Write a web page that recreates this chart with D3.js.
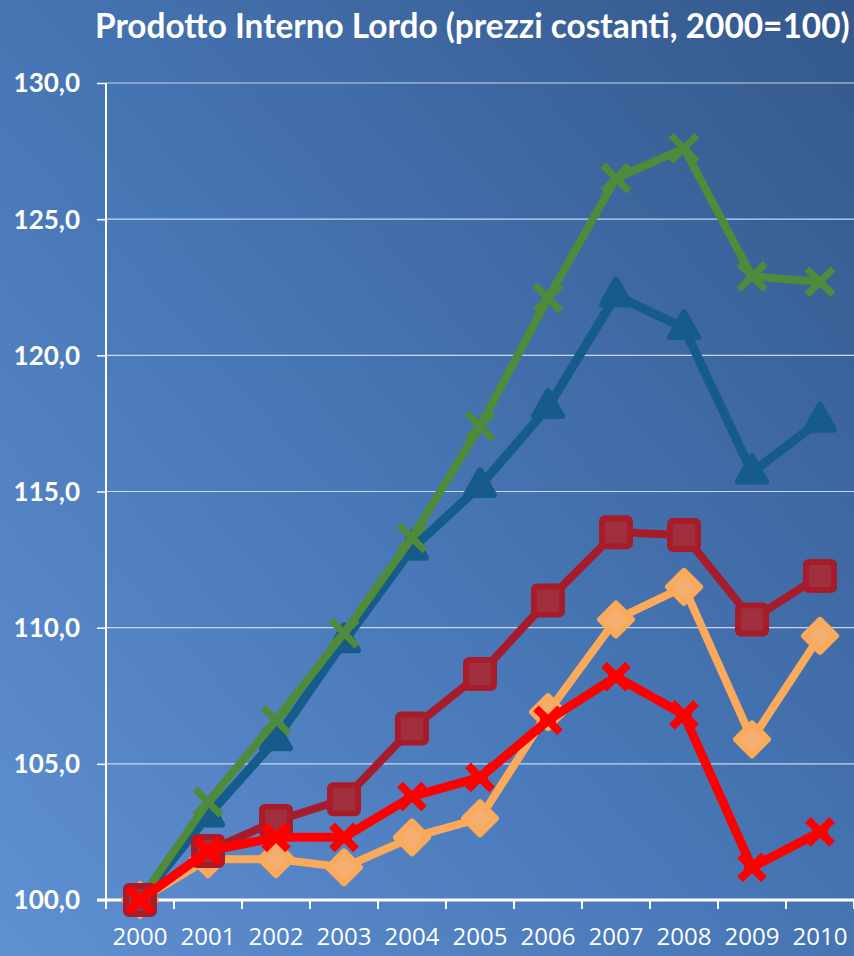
<!DOCTYPE html>
<html><head><meta charset="utf-8">
<script src="https://cdn.jsdelivr.net/npm/d3@7"></script>
<style>html,body{margin:0;padding:0;overflow:hidden;background:#4a78b8}</style>
</head><body>
<svg id="chart" width="854" height="956"></svg>
<script>
const years = ["2000","2001","2002","2003","2004","2005","2006","2007","2008","2009","2010"];
const yTicks = [100,105,110,115,120,125,130];
const serieVerde   = [100,103.6,106.6,109.8,113.3,117.4,122.1,126.5,127.6,122.9,122.7];
const serieBlu     = [100,103.1,105.9,109.5,112.9,115.2,118.1,122.2,121.0,115.7,117.6];
const serieBordeaux= [100,101.8,102.9,103.7,106.3,108.3,111.0,113.5,113.4,110.3,111.9];
const serieArancio = [100,101.5,101.5,101.2,102.3,103.0,106.9,110.3,111.5,105.9,109.7];
const serieRosso   = [100,101.8,102.3,102.3,103.8,104.5,106.6,108.2,106.8,101.2,102.5];
const titleText = "Prodotto Interno Lordo (prezzi costanti, 2000=100)";

const svg = d3.select("#chart");
const W = 854, H = 956;
const defs = svg.append("defs");
const grad = defs.append("linearGradient").attr("id","bg")
  .attr("x1","0").attr("y1","1").attr("x2","1").attr("y2","0");
grad.append("stop").attr("offset","0").attr("stop-color","#5f90d2");
grad.append("stop").attr("offset","0.5").attr("stop-color","#4675b4");
grad.append("stop").attr("offset","1").attr("stop-color","#34588b");
svg.append("rect").attr("width",W).attr("height",H).attr("fill","url(#bg)");

const x = d3.scaleBand().domain(years).range([106, 854]);
const y = d3.scaleLinear().domain([100,130]).range([900, 83]);
const cx = d => x(d) + x.bandwidth()/2;

// title
const t = svg.append("text").attr("x", 95).attr("y", 38)
  .attr("font-family","Lato, 'Open Sans', sans-serif").attr("font-weight","bold")
  .attr("font-size",29).attr("fill","#fff").text(titleText);
const tl = t.node().getComputedTextLength();
t.attr("font-size", 29*755/tl);

// gridlines
svg.append("g").selectAll("line").data(yTicks.filter(v=>v>100)).join("line")
  .attr("x1",106).attr("x2",854).attr("y1",d=>y(d)).attr("y2",d=>y(d))
  .attr("stroke","#c8d6ee").attr("stroke-width",1.2);

// y axis
const yAxis = d3.axisLeft(y).tickValues(yTicks).tickSize(9).tickPadding(17)
  .tickFormat(d => d3.format(".1f")(d).replace(".",","));
const gy = svg.append("g").attr("transform","translate(106,0)").call(yAxis);
gy.select(".domain").remove();
gy.append("line").attr("x1",0).attr("x2",0).attr("y1",y(130)).attr("y2",y(100)).attr("stroke","#fff").attr("stroke-width",2);
gy.selectAll(".tick line").attr("stroke","#fff").attr("stroke-width",1.5);
gy.selectAll(".tick text").attr("fill","#fff").attr("font-family","Lato, sans-serif")
  .attr("font-weight","bold").attr("font-size",26).attr("dy","0.34em");

// x axis
const xAxis = d3.axisBottom(x).tickSize(0).tickPadding(28);
const gx = svg.append("g").attr("transform","translate(0,900)").call(xAxis);
gx.select(".domain").remove();
gx.selectAll(".tick text").attr("fill","#fff").attr("font-family","'Open Sans', Lato, sans-serif")
  .attr("font-size",24).attr("dy","0.71em");
gx.append("line").attr("x1",97).attr("x2",854).attr("y1",0).attr("y2",0).attr("stroke","#fff").attr("stroke-width",3);
gx.selectAll(".bt").data(years.concat(["end"])).join("line").attr("class","bt")
  .attr("x1",(d,i)=> i<years.length ? x(d) : x(years[years.length-1])+x.bandwidth())
  .attr("x2",(d,i)=> i<years.length ? x(d) : x(years[years.length-1])+x.bandwidth())
  .attr("y1",0).attr("y2",9).attr("stroke","#fff").attr("stroke-width",2);

const line = d3.line().x((d,i)=>cx(years[i])).y(d=>y(d));

function drawSeries(vals, color, lw, marker) {
  const g = svg.append("g");
  g.append("path").datum(vals).attr("d", line).attr("fill","none")
    .attr("stroke",color).attr("stroke-width",lw).attr("stroke-linejoin","round");
  const m = g.selectAll("g.m").data(vals).join("g").attr("class","m")
    .attr("transform",(d,i)=>`translate(${cx(years[i])},${y(d)})`);
  marker(m, color);
}

const crossMarker = (m, c) => {
  m.append("path").attr("d","M-13,-13L13,13M-13,13L13,-13").attr("stroke",c).attr("stroke-width",7).attr("fill","none");
};
const triMarker = (m, c) => {
  m.append("path").attr("d","M0,-16L14,9L-14,9Z").attr("fill",c).attr("stroke",c).attr("stroke-width",6).attr("stroke-linejoin","round");
  m.append("path").attr("d","M0,-4L5,4L-5,4Z").attr("fill","#1e5788");
};
const sqMarker = (m, c) => {
  m.append("rect").attr("x",-14).attr("y",-14).attr("width",28).attr("height",28).attr("rx",3)
    .attr("fill","#a0303e").attr("stroke",c).attr("stroke-width",6).attr("stroke-linejoin","round");
};
const diaMarker = (m, c) => {
  m.append("path").attr("d","M0,-16L16,0L0,16L-16,0Z").attr("fill","#f4ae70").attr("stroke",c).attr("stroke-width",6).attr("stroke-linejoin","round");
};
const starMarker = (m, c) => {
  m.append("path").attr("d","M-12,-12L12,12M-12,12L12,-12M-8,0L8,0").attr("stroke",c).attr("stroke-width",8).attr("fill","none");
};

drawSeries(serieBlu, "#165c8b", 9, triMarker);
drawSeries(serieVerde, "#4f8b3b", 8, crossMarker);
drawSeries(serieArancio, "#fbaa5c", 8, diaMarker);
drawSeries(serieBordeaux, "#a81c2a", 8, sqMarker);
drawSeries(serieRosso, "#ff0000", 9, starMarker);
</script>
</body></html>
